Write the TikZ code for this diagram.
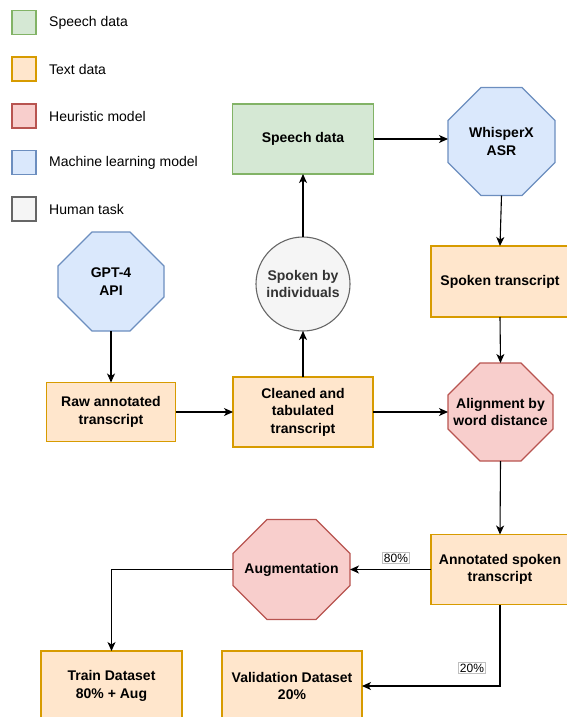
\documentclass[tikz,border=0pt]{standalone}
\usepackage{fontspec}
\setmainfont{Liberation Sans}
\usetikzlibrary{arrows.meta,calc,backgrounds}
\definecolor{gfill}{HTML}{D5E8D4}\definecolor{gdraw}{HTML}{82B366}
\definecolor{ofill}{HTML}{FFE6CC}\definecolor{odraw}{HTML}{D79B00}
\definecolor{rfill}{HTML}{F8CECC}\definecolor{rdraw}{HTML}{B85450}
\definecolor{bfill}{HTML}{DAE8FC}\definecolor{bdraw}{HTML}{6C8EBF}
\definecolor{hfill}{HTML}{F5F5F5}\definecolor{hdraw}{HTML}{666666}
\tikzset{
  base/.style={line width=1.1pt, outer sep=0pt, inner sep=0pt, align=center,
    font=\fontsize{14}{17.5}\selectfont\bfseries},
  greenbox/.style={base, draw=gdraw, fill=gfill},
  orangebox/.style={base, draw=odraw, fill=ofill},
  octnode/.style={base},
  humancirc/.style={base, circle, draw=hdraw, fill=hfill, text=black!80, minimum size=94pt},
  conn/.style={line width=1.1pt, -{Stealth[length=9pt,width=8pt,inset=2.5pt]}},
  legendsq/.style={minimum size=24pt, line width=1.1pt, inner sep=0pt, outer sep=0pt},
  legendtxt/.style={anchor=west, font=\fontsize{14}{17}\selectfont, inner sep=0pt},
  pct/.style={draw=black!25, fill=white, font=\fontsize{12}{14}\selectfont, inner sep=1.2pt, line width=0.6pt}
}
\newcommand\drawocta[3]{%
  \begin{pgfonlayer}{background}
  \draw[line width=1.1pt,#2]
    ($(#1.north west)+(#3,0)$) -- ($(#1.north east)+(-#3,0)$) --
    ($(#1.north east)+(0,#3)$) -- ($(#1.south east)+(0,-#3)$) --
    ($(#1.south east)+(-#3,0)$) -- ($(#1.south west)+(#3,0)$) --
    ($(#1.south west)+(0,-#3)$) -- ($(#1.north west)+(0,#3)$) -- cycle;
  \end{pgfonlayer}}
\begin{document}
\begin{tikzpicture}[x=1pt,y=-1pt]
\useasboundingbox (0,0) rectangle (566,717);
% legend
\node[legendsq, draw=gdraw, fill=gfill] (l1) at (24,22.5) {};
\node[legendtxt] (t1) at (49,22.5) {Speech data};
\node[legendsq, draw=odraw, fill=ofill] (l2) at (24,69) {};
\node[legendtxt] (t2) at (49,69) {Text data};
\node[legendsq, draw=rdraw, fill=rfill] (l3) at (24,116) {};
\node[legendtxt] (t3) at (49,116) {Heuristic model};
\node[legendsq, draw=bdraw, fill=bfill] (l4) at (24,162.5) {};
\node[legendtxt] (t4) at (49,162.5) {Machine learning model};
\node[legendsq, draw=hdraw, fill=hfill] (l5) at (24,209) {};
\node[legendtxt] (t5) at (49,209) {Human task};
% nodes
\node[greenbox, minimum width=141pt, minimum height=70pt] (speech) at (303,139) {Speech data};
\node[octnode, minimum width=107pt, minimum height=108pt] (wx) at (501.5,141.5) {WhisperX\\ASR};
\node[orangebox, minimum width=138pt, minimum height=71pt] (spoken) at (500,281.5) {Spoken transcript};
\node[octnode, minimum width=105pt, minimum height=98pt] (align) at (500.5,412) {Alignment by\\word distance};
\node[orangebox, minimum width=138pt, minimum height=70pt] (annot) at (500,569.5) {Annotated spoken\\transcript};
\node[octnode, minimum width=117pt, minimum height=100pt] (aug) at (291.5,569.5) {Augmentation};
\node[orangebox, minimum width=141pt, minimum height=70pt] (train) at (111.5,686) {Train Dataset\\80\% + Aug};
\node[orangebox, minimum width=140pt, minimum height=70pt] (valid) at (292,686) {Validation Dataset\\20\%};
\node[humancirc] (circ) at (303,284) {Spoken by\\individuals};
\node[orangebox, minimum width=140pt, minimum height=70pt] (clean) at (303,412) {Cleaned and\\tabulated\\transcript};
\node[orangebox, minimum width=129pt, minimum height=59pt] (raw) at (111,412) {Raw annotated\\transcript};
\node[octnode, minimum width=106pt, minimum height=99pt] (gpt) at (111,281.5) {GPT-4\\API};
\drawocta{wx}{draw=bdraw, fill=bfill}{33}
\drawocta{gpt}{draw=bdraw, fill=bfill}{34}
\drawocta{align}{draw=rdraw, fill=rfill}{32}
\drawocta{aug}{draw=rdraw, fill=rfill}{34}
% connectors
\draw[conn] (gpt.south) -- (raw.north);
\draw[conn] (raw.east) -- (clean.west);
\draw[conn] (clean.north) -- (circ.south);
\draw[conn] (circ.north) -- (speech.south);
\draw[conn] (speech.east) -- (speech.east -| wx.west);
\draw[conn] (wx.south) -- (spoken.north);
\draw[conn] (spoken.south) -- (align.north);
\draw[conn] (clean.east) -- (align.west);
\draw[conn] (align.south) -- (annot.north);
\draw[conn] (annot.west) -- (aug.east);
\draw[conn] (aug.west) -| (train.north);
\draw[conn] (annot.south) |- (valid.east);
\node[pct] (p80) at (396,558) {80\%};
\node[pct] (p20) at (472,668) {20\%};
\end{tikzpicture}
\end{document}
